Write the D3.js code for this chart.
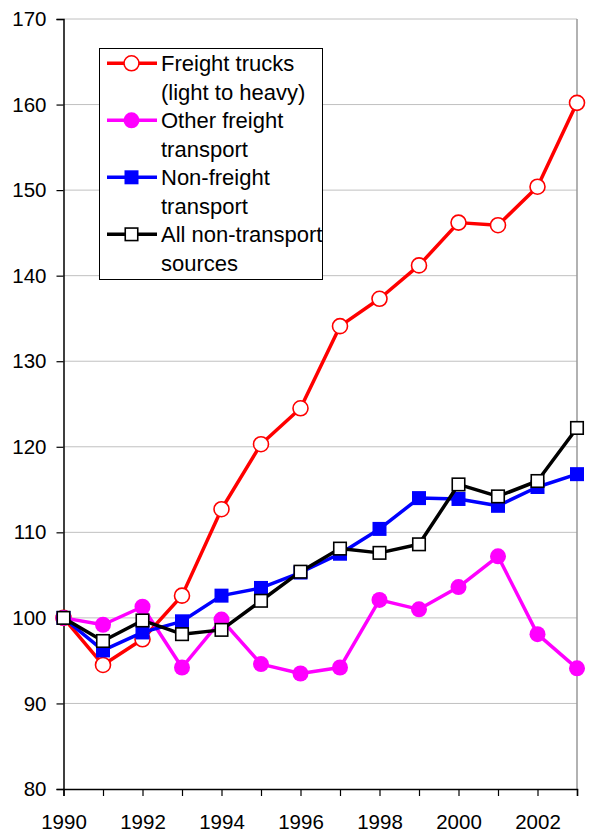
<!DOCTYPE html>
<html><head><meta charset="utf-8">
<script src="https://cdn.jsdelivr.net/npm/d3@7"></script>
<style>body{margin:0;background:#fff}svg{display:block}text{font-family:"Liberation Sans",Arial,sans-serif}</style>
</head><body>
<script>
const years = [1990,1991,1992,1993,1994,1995,1996,1997,1998,1999,2000,2001,2002,2003];
const freightTrucks = [100,94.5,97.5,102.6,112.7,120.3,124.5,134.1,137.3,141.2,146.2,145.9,150.4,160.2];
const otherFreight = [100,99.2,101.3,94.2,99.8,94.6,93.5,94.2,102.1,101.0,103.6,107.2,98.1,94.1];
const nonFreight = [100,96.2,98.3,99.6,102.6,103.5,105.3,107.5,110.4,114.0,113.9,113.1,115.3,116.8];
const allNonTransport = [100,97.3,99.7,98.1,98.6,102.0,105.4,108.1,107.6,108.6,115.6,114.2,116.0,122.2];
const yTicks = [80,90,100,110,120,130,140,150,160,170];
const xLabels = [1990,1992,1994,1996,1998,2000,2002];
const seriesNames = [["Freight trucks","(light to heavy)"],["Other freight","transport"],["Non-freight","transport"],["All non-transport","sources"]];

const W=592,H=833;
const svg=d3.select("body").append("svg").attr("width",W).attr("height",H);
const x=d3.scaleLinear().domain([1990,2003]).range([63.5,577]);
const y=d3.scaleLinear().domain([80,170]).range([789,19]);
const fs=20.5, lfs=22;

// gridlines
svg.append("g").selectAll("line").data(yTicks.filter(d=>d>80)).join("line")
  .attr("x1",63.5).attr("x2",577).attr("y1",d=>y(d)).attr("y2",d=>y(d))
  .attr("stroke","#c0c0c0").attr("stroke-width",1);
// right border
svg.append("line").attr("x1",577).attr("x2",577).attr("y1",y(170)).attr("y2",y(80)).attr("stroke","#999").attr("stroke-width",1.5);

// y axis
const yAxis=svg.append("g").attr("transform","translate(63.5,0)")
  .call(d3.axisLeft(y).tickValues(yTicks).tickSize(7).tickPadding(10).tickFormat(d3.format("d")));
yAxis.select(".domain").attr("stroke","#000").attr("stroke-width",1.5);
yAxis.selectAll(".tick line").attr("stroke","#000").attr("stroke-width",1.2);
yAxis.selectAll("text").attr("font-size",fs).attr("fill","#000").attr("font-family","Liberation Sans, Arial, sans-serif");

// x axis
const xAxis=svg.append("g").attr("transform","translate(0,789)")
  .call(d3.axisBottom(x).tickValues(years).tickSize(7).tickFormat(d=>xLabels.includes(d)?String(d):""));
xAxis.select(".domain").attr("stroke","#000").attr("stroke-width",1.5);
xAxis.selectAll(".tick line").attr("stroke","#000").attr("stroke-width",1.2);
xAxis.selectAll("text").attr("font-size",fs).attr("fill","#000").attr("font-family","Liberation Sans, Arial, sans-serif").attr("y",25).attr("dy","0.71em");

const series=[
  {name:seriesNames[0],data:freightTrucks,color:"#ff0000",marker:"circle",fill:"#fff"},
  {name:seriesNames[1],data:otherFreight,color:"#ff00ff",marker:"circle",fill:"#ff00ff"},
  {name:seriesNames[2],data:nonFreight,color:"#0000ff",marker:"square",fill:"#0000ff"},
  {name:seriesNames[3],data:allNonTransport,color:"#000000",marker:"square",fill:"#fff"}
];
const line=d3.line().x((d,i)=>x(years[i])).y(d=>y(d));

function drawMarker(g,s,cx,cy){
  if(s.marker==="circle"){
    g.append("circle").attr("cx",cx).attr("cy",cy).attr("r",s.fill==="#fff"?7.5:8)
      .attr("fill",s.fill).attr("stroke",s.color).attr("stroke-width",s.fill==="#fff"?1.6:0);
  } else {
    const sz=s.fill==="#fff"?12.5:14;
    g.append("rect").attr("x",cx-sz/2).attr("y",cy-sz/2).attr("width",sz).attr("height",sz)
      .attr("fill",s.fill).attr("stroke",s.color).attr("stroke-width",s.fill==="#fff"?1.6:0);
  }
}

series.forEach(s=>{
  const g=svg.append("g");
  g.append("path").datum(s.data).attr("d",line).attr("fill","none").attr("stroke",s.color).attr("stroke-width",3.5).attr("stroke-linejoin","round");
  s.data.forEach((v,i)=>drawMarker(g,s,x(years[i]),y(v)));
});

// legend
const lg=svg.append("g");
lg.append("rect").attr("x",99.5).attr("y",48.5).attr("width",223).attr("height",231).attr("fill","#fff").attr("stroke","#000").attr("stroke-width",1);
const lineH=28.5, top0=63.3;
series.forEach((s,i)=>{
  const cy=top0+i*2*lineH;
  lg.append("line").attr("x1",107).attr("x2",157).attr("y1",cy).attr("y2",cy).attr("stroke",s.color).attr("stroke-width",3.5);
  drawMarker(lg,s,131.5,cy);
  s.name.forEach((t,j)=>{
    lg.append("text").attr("x",161).attr("y",cy+j*lineH).attr("dy","0.36em").attr("font-size",lfs).attr("fill","#000").text(t);
  });
});
</script>
</body></html>
